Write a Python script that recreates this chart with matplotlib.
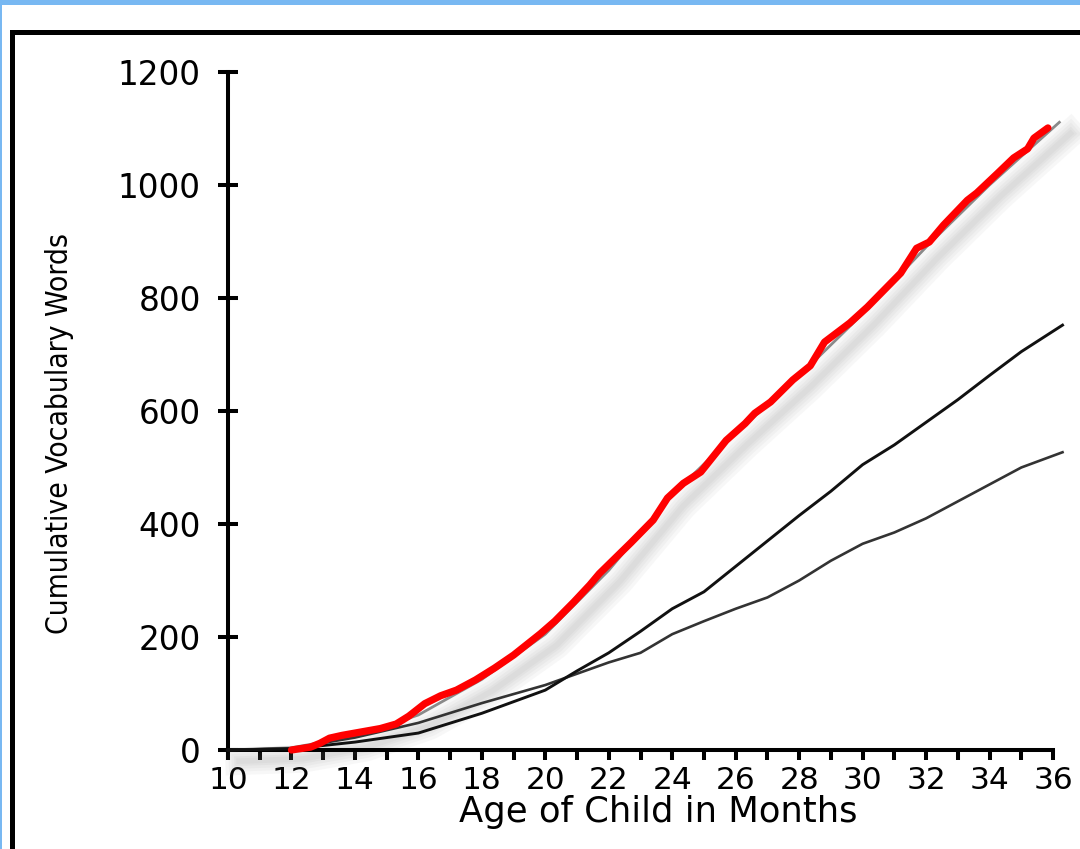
import matplotlib
matplotlib.use("Agg")
import matplotlib.pyplot as plt
import matplotlib.patheffects as pe
from matplotlib.patches import Rectangle
from matplotlib.ticker import MultipleLocator

# ---- data ----
age_red = [12.0, 12.6, 12.9, 13.2, 13.6, 14.0, 14.8, 15.3, 15.7, 16.2, 16.7, 17.2,
           17.8, 18.4, 19.0, 19.85, 20.3, 20.9, 21.4, 21.7, 22.3, 22.7, 23.4, 23.85,
           24.35, 24.9, 25.7, 26.3, 26.6, 27.1, 27.8, 28.35, 28.8, 29.6, 30.15, 31.2,
           31.7, 32.1, 32.55, 33.3, 33.6, 34.26, 34.76, 35.2, 35.4, 35.84]
vocab_red = [0, 5, 12, 21, 26, 30, 38, 46, 60, 82, 96, 106,
             124, 145, 168, 206, 228, 262, 292, 312, 345, 367, 407, 446,
             472, 492, 548, 578, 596, 616, 655, 680, 722, 756, 784, 844,
             888, 899, 929, 973, 986, 1021, 1048, 1064, 1083, 1101]

age_trend = [10, 12, 14, 16, 18, 20, 22, 24, 26, 28, 30, 32, 34, 36.2]
vocab_trend = [0, 4, 24, 62, 125, 205, 318, 452, 560, 662, 772, 890, 1000, 1111]

age_black = [10, 12, 14, 16, 18, 20, 21, 22, 23, 24, 25, 26, 27, 28, 29, 30,
             31, 32, 33, 34, 35, 36.3]
vocab_upper = [0, 2, 14, 30, 65, 106, 140, 172, 210, 250, 280, 325, 370, 415,
               458, 505, 540, 580, 620, 663, 705, 752]
vocab_lower = [0, 3, 22, 48, 83, 115, 135, 155, 172, 205, 228, 250, 270, 300,
               335, 365, 385, 410, 440, 470, 500, 527]

x_ticks = list(range(10, 37, 2))
y_ticks = list(range(0, 1201, 200))

x_label = "Age of Child in Months"
y_label = "Cumulative Vocabulary Words"

# ---- figure ----
W, H = 1080, 849
fig = plt.figure(figsize=(W / 100, H / 100), dpi=100)
fig.patch.set_facecolor("white")

# light blue border (top + left) and black frame
fig.add_artist(Rectangle((0, 1 - 5 / H), 1, 5 / H, transform=fig.transFigure,
                         facecolor="#78b8f2", edgecolor="none", zorder=0))
fig.add_artist(Rectangle((0, 0), 2 / W, 1, transform=fig.transFigure,
                         facecolor="#78b8f2", edgecolor="none", zorder=0))
fig.add_artist(Rectangle((10 / W, 0), 5 / W, (H - 30) / H, transform=fig.transFigure,
                         facecolor="black", edgecolor="none", zorder=0))
fig.add_artist(Rectangle((10 / W, (H - 35) / H), 1, 5 / H, transform=fig.transFigure,
                         facecolor="black", edgecolor="none", zorder=0))

ax = fig.add_axes([228 / W, (H - 750) / H, 825 / W, 678 / H])
ax.set_xlim(10, 36)
ax.set_ylim(0, 1200)
for s in ("top", "right"):
    ax.spines[s].set_visible(False)
for s in ("left", "bottom"):
    ax.spines[s].set_linewidth(2.9)
    ax.spines[s].set_color("black")

font = "DejaVu Sans"
ax.set_xticks(x_ticks)
ax.xaxis.set_minor_locator(MultipleLocator(1))
ax.set_yticks(y_ticks)
ax.set_xticklabels([str(v) for v in x_ticks], fontsize=22.5, family=font)
ax.set_yticklabels([str(v) for v in y_ticks], fontsize=23.5, family=font)
ax.tick_params(axis="x", which="both", direction="out", length=7.2, width=2.9, pad=4.0)
ax.tick_params(axis="y", which="major", direction="inout", length=15, width=2.9, pad=12.0)

ax.set_xlabel(x_label, fontsize=25.5, family=font)
ax.xaxis.set_label_coords(0.5 + 18 / 825, -45 / 678)
ax.set_ylabel(y_label, fontsize=21.5, family=font, fontstretch="condensed")
ax.yaxis.set_label_coords(-154 / 825, (750 - 434) / 678)

# shadow (soft, offset down-right) under the gray trend line
shadow = [pe.SimpleLineShadow(offset=(8, -8), shadow_color="0.45", alpha=0.05,
                              rho=1.0, linewidth=w) for w in (20, 15, 11, 7, 4)]
ax.plot(age_trend, vocab_trend, color="#8a8a8a", lw=2.0, clip_on=False, zorder=2,
        path_effects=shadow + [pe.Normal()])

ax.plot(age_black, vocab_lower, color="#333333", lw=1.9, clip_on=False, zorder=3)
ax.plot(age_black, vocab_upper, color="#111111", lw=2.1, clip_on=False, zorder=3)

ax.plot(age_red, vocab_red, color="#ff0000", lw=5.2, solid_capstyle="round",
        solid_joinstyle="round", clip_on=False, zorder=4)

fig.savefig("out.png", dpi=100, facecolor="white")
